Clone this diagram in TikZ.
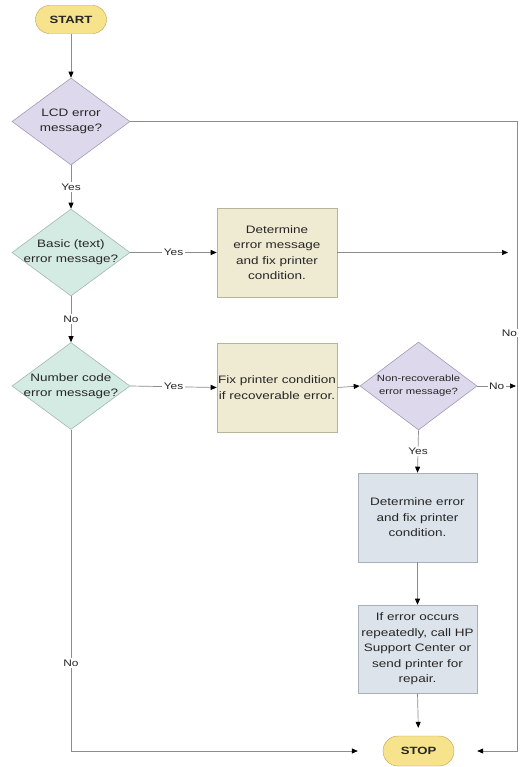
\documentclass[tikz,border=0pt]{standalone}
\usepackage{fontspec}
\setmainfont[FakeStretch=1.25]{Liberation Sans}
\usetikzlibrary{shapes.geometric,arrows.meta}
\definecolor{pillfill}{HTML}{F6E38C}
\definecolor{pilldraw}{HTML}{B9A254}
\definecolor{lavfill}{HTML}{DDD8EC}
\definecolor{lavdraw}{HTML}{A19DB3}
\definecolor{mintfill}{HTML}{D4EBE3}
\definecolor{mintdraw}{HTML}{A3B8B0}
\definecolor{beigefill}{HTML}{EFEBD3}
\definecolor{beigedraw}{HTML}{B8B398}
\definecolor{bluefill}{HTML}{DDE3EB}
\definecolor{bluedraw}{HTML}{A9AFB8}
\definecolor{linegray}{HTML}{8C8C8C}
\definecolor{txt}{HTML}{262626}
\begin{document}
\begin{tikzpicture}[x=1pt,y=-1pt,
  every node/.style={text=txt},
  pill/.style={draw=pilldraw, fill=pillfill, rounded corners=13.9pt, minimum width=71pt, minimum height=28pt, inner sep=0pt, font=\bfseries\fontsize{10.5}{12}\selectfont},
  decision/.style={diamond, draw=#1draw, fill=#1fill, line width=0.6pt, minimum width=118pt, minimum height=87pt, inner sep=0pt},
  dtext/.style={font=\fontsize{10.8}{15}\selectfont, align=center, text=txt},
  stext/.style={font=\fontsize{9}{13}\selectfont, align=center, text=txt},
  procbox/.style={rectangle, draw=#1draw, fill=#1fill, line width=0.6pt, minimum width=120pt, minimum height=89pt, inner sep=0pt, align=center, font=\fontsize{10.8}{15.5}\selectfont},
  line/.style={draw=linegray, line width=0.7pt},
  arr/.style={line, -{Triangle[length=6pt,width=5pt,color=black]}},
  lbl/.style={fill=white, inner sep=1.5pt, font=\fontsize{9.5}{11}\selectfont}
]
\useasboundingbox (0,0) rectangle (519,767);
\fill[white] (0,0) rectangle (519,767);

% nodes
\node[pill] (start) at (71,19.5) {START};
\node[decision=lav, label={[dtext]center:LCD error\\message?}] (lcd) at (71,121.5) {};
\node[decision=mint, label={[dtext]center:Basic (text)\\error message?}] (basic) at (71,252.5) {};
\node[decision=mint, label={[dtext]center:Number code\\error message?}] (number) at (71,386) {};
\node[procbox=beige] (box1) at (277,252.5) {Determine\\error message\\and fix printer\\condition.};
\node[procbox=beige] (box2) at (277,387.5) {Fix printer condition\\if recoverable error.};
\node[decision=lav, minimum width=117pt, minimum height=88pt, label={[stext]center:Non-recoverable\\error message?}] (nonrec) at (418.5,386) {};
\node[procbox=blue, minimum width=119pt] (box3) at (417.5,517.5) {Determine error\\and fix printer\\condition.};
\node[procbox=blue, minimum width=119pt, minimum height=88pt] (box4) at (417.5,649) {If error occurs\\repeatedly, call HP\\Support Center or\\send printer for\\repair.};
\node[pill, minimum height=30pt, rounded corners=14.9pt] (stop) at (418.5,751) {STOP};

\coordinate (rc) at (517,751);
\coordinate (m1) at (508,252.5);
\coordinate (m2) at (516,386);

% connectors
\draw[arr] (start) -- (lcd.north);
\draw[arr] (lcd.south) -- node[lbl]{Yes} (basic.north);
\draw[arr] (basic.east) -- node[lbl]{Yes} (box1.west);
\draw[arr] (box1.east) -- (m1);
\draw[arr] (basic.south) -- node[lbl]{No} (number.north);
\draw[arr] (number.east) -- node[lbl]{Yes} (box2.west);
\draw[arr] (box2.east) -- (nonrec.west);
\draw[arr] (nonrec.east) -- node[lbl]{No} (m2);
\draw[arr] (nonrec.south) -- node[lbl]{Yes} (box3.north);
\draw[arr] (box3.south) -- (box4.north);
\draw[arr, shorten >=8pt] (box4.south) -- (stop.north);
\draw[arr, shorten >=23pt] (lcd.east) -| (rc) -- (stop.east);
\draw[arr, shorten >=25pt] (number.south) |- (stop.west);
\node[lbl, inner sep=0.5pt] at (509.5,333) {No};
\node[lbl] at (71,663) {No};
\end{tikzpicture}
\end{document}
